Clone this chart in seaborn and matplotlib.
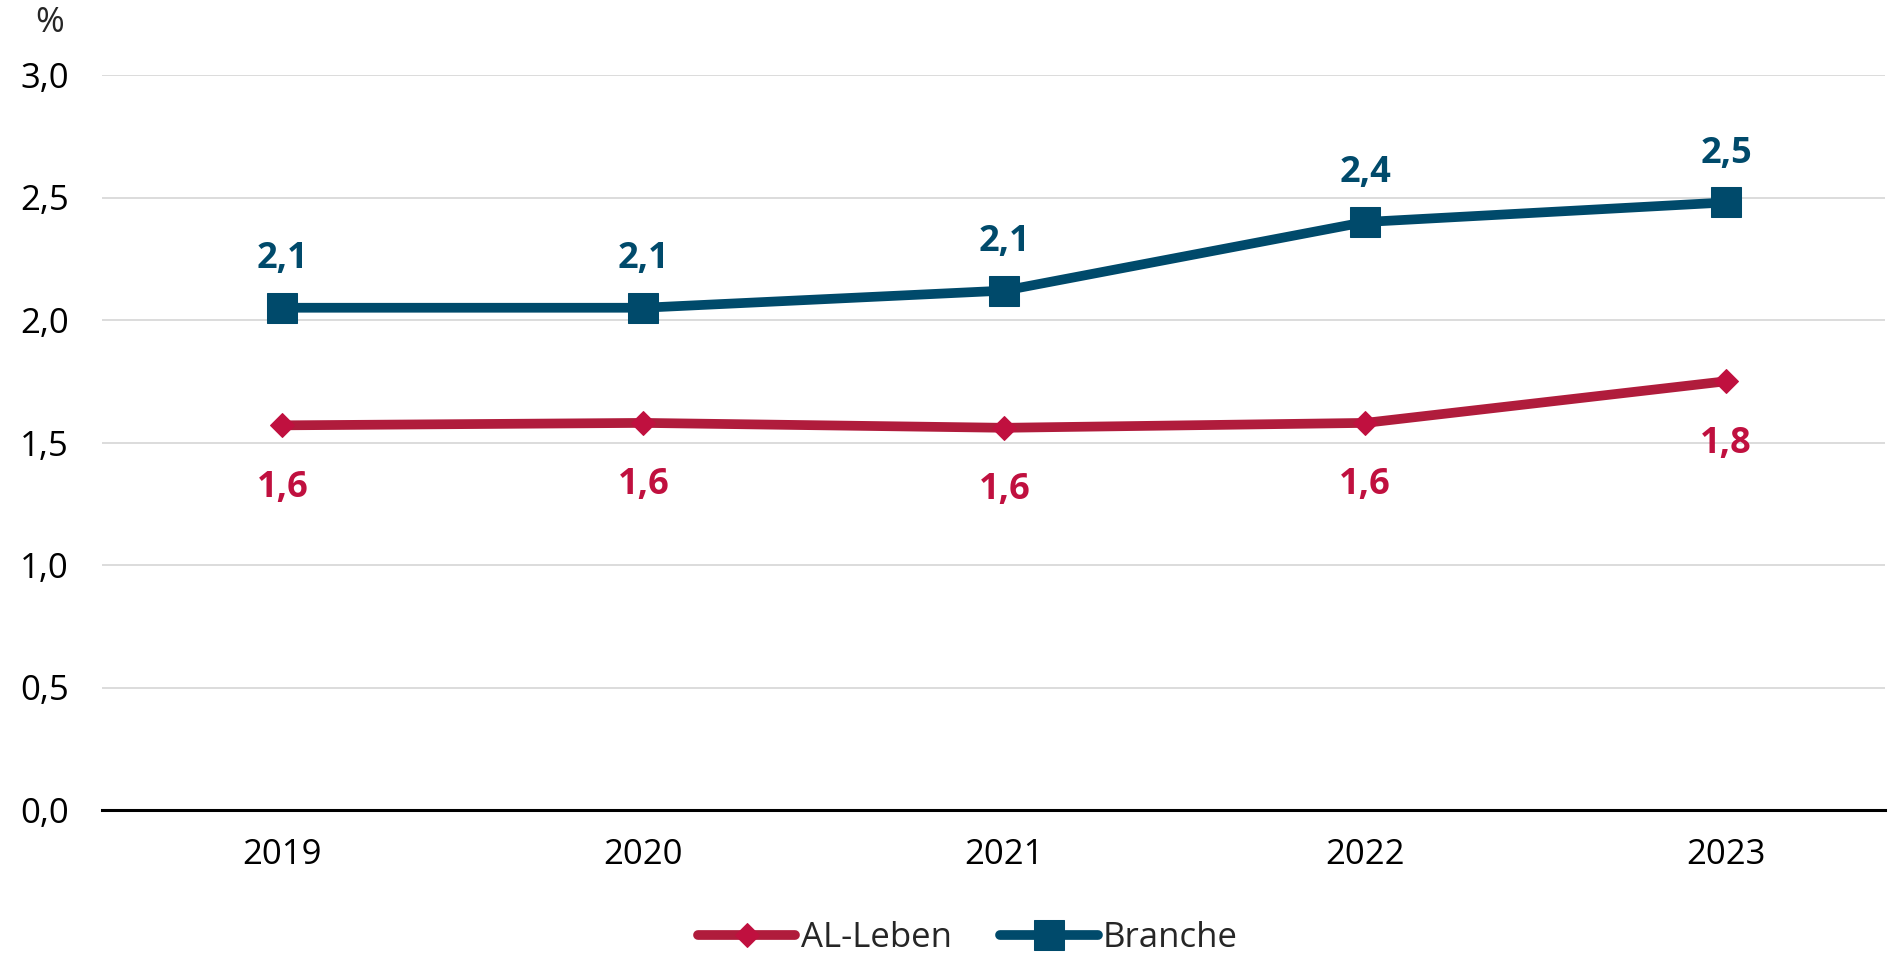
from decimal import Decimal, ROUND_HALF_UP

import matplotlib
matplotlib.use("Agg")
import matplotlib.pyplot as plt
import pandas as pd
import seaborn as sns

# Data
years = ["2019", "2020", "2021", "2022", "2023"]
al_leben = [1.57, 1.58, 1.56, 1.58, 1.75]
branche = [2.05, 2.05, 2.12, 2.40, 2.48]
y_ticks = [0.0, 0.5, 1.0, 1.5, 2.0, 2.5, 3.0]

RED_LINE = "#B01C3C"
RED_MARK = "#C0103F"
BLUE = "#004A6B"

sns.set_theme(style="white")
plt.rcParams["font.family"] = ["Open Sans", "DejaVu Sans"]


def fmt(v, digits="0.1"):
    d = Decimal(str(v)).quantize(Decimal(digits), rounding=ROUND_HALF_UP)
    return str(d).replace(".", ",")


fig = plt.figure(figsize=(18.89, 9.6), dpi=100)
ax = fig.add_axes([102 / 1889, 1 - 810 / 960, (1885 - 102) / 1889, (810 - 75) / 960])

df = pd.DataFrame({"Jahr": years, "AL-Leben": al_leben, "Branche": branche})

sns.lineplot(data=df, x="Jahr", y="AL-Leben", ax=ax, color=RED_LINE, lw=7,
             marker="D", markersize=12, markerfacecolor=RED_MARK,
             markeredgecolor=RED_MARK, label="AL-Leben", sort=False,
             solid_capstyle="round", clip_on=False, zorder=3)
sns.lineplot(data=df, x="Jahr", y="Branche", ax=ax, color=BLUE, lw=7,
             marker="s", markersize=21, markerfacecolor=BLUE,
             markeredgecolor=BLUE, label="Branche", sort=False,
             solid_capstyle="round", clip_on=False, zorder=3)

# Value labels
for i, v in enumerate(branche):
    ax.annotate(fmt(v), (i, v), xytext=(0, 35), textcoords="offset points",
                ha="center", va="center", fontsize=26, fontweight="bold",
                color=BLUE)
for i, v in enumerate(al_leben):
    ax.annotate(fmt(v), (i, v), xytext=(0, -45), textcoords="offset points",
                ha="center", va="center", fontsize=26, fontweight="bold",
                color=RED_MARK)

ax.set_ylim(0, 3.0)
ax.set_xlim(-0.5, 4.44)
ax.set_yticks(y_ticks)
ax.set_yticklabels([fmt(t) for t in y_ticks])
ax.set_xlabel("")
ax.set_ylabel("")
ax.tick_params(axis="both", length=0, labelsize=25, colors="black")
ax.tick_params(axis="y", pad=24)
ax.tick_params(axis="x", pad=20)

ax.grid(axis="y", color="#D9D9D9", lw=1.3)
ax.grid(axis="x", visible=False)
for side in ["left", "right", "top"]:
    ax.spines[side].set_visible(False)
ax.spines["bottom"].set_color("black")
ax.spines["bottom"].set_linewidth(2.2)
ax.spines["bottom"].set_zorder(2)

fig.text(50 / 1889, 1 - 23 / 960, "%", ha="center", va="center", fontsize=25)

ax.get_legend().remove()
handles, labels = ax.get_legend_handles_labels()
fig.legend(handles, labels, loc="center", bbox_to_anchor=(968 / 1889, 1 - 938 / 960),
           ncol=2, frameon=False, fontsize=25, handlelength=2.8,
           columnspacing=1.4, handletextpad=0.15)

fig.savefig("out.png", dpi=100, facecolor="white")
